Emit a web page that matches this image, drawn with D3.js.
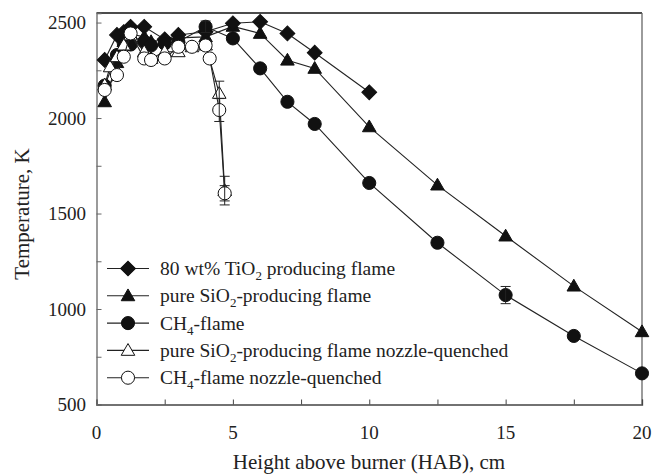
<!DOCTYPE html>
<html>
<head>
<meta charset="utf-8">
<script src="https://cdn.jsdelivr.net/npm/d3@7"></script>
<style>
  body { margin: 0; background: #fff; }
</style>
</head>
<body>
<script>
// 80 wt% TiO2 producing flame
var tio2X = [0.3, 0.75, 1.0, 1.25, 1.75, 2.5, 3.0, 4.0, 5.0, 6.0, 7.0, 8.0, 10.0];
var tio2T = [2304, 2435, 2450, 2478, 2478, 2412, 2435, 2452, 2496, 2504, 2443, 2342, 2135];

// pure SiO2-producing flame
var siX = [0.3, 0.75, 1.0, 1.25, 1.75, 2.0, 2.5, 3.0, 4.0, 5.0, 6.0, 7.0, 8.0, 10.0, 12.5, 15.0, 17.5, 20.0];
var siT = [2085, 2290, 2400, 2440, 2425, 2400, 2410, 2420, 2425, 2480, 2443, 2303, 2260, 1954, 1649, 1382, 1120, 881];

// CH4-flame
var ch4X = [0.3, 0.75, 1.0, 1.25, 1.75, 2.0, 2.5, 3.0, 4.0, 5.0, 6.0, 7.0, 8.0, 10.0, 12.5, 15.0, 17.5, 20.0];
var ch4T = [2170, 2330, 2390, 2385, 2400, 2380, 2390, 2400, 2478, 2417, 2260, 2085, 1969, 1660, 1347, 1073, 859, 663];
var ch4Err = [0, 0, 0, 0, 0, 0, 0, 0, 30, 0, 0, 0, 0, 0, 0, 45, 0, 0];

// pure SiO2-producing flame nozzle-quenched
var siqX = [0.3, 0.5, 0.75, 1.0, 1.25, 1.75, 2.0, 2.5, 3.0, 3.5, 4.0, 4.5, 4.7];
var siqT = [2173, 2268, 2321, 2382, 2435, 2347, 2312, 2347, 2347, 2373, 2382, 2129, 1620];
var siqErr = [0, 0, 0, 0, 0, 0, 0, 0, 0, 0, 0, 64, 75];

// CH4-flame nozzle-quenched
var chqX = [0.3, 0.75, 1.0, 1.25, 1.75, 2.0, 2.5, 3.0, 3.5, 4.0, 4.15, 4.5, 4.7];
var chqT = [2147, 2225, 2321, 2443, 2312, 2304, 2312, 2373, 2373, 2380, 2312, 2042, 1606];
var chqErr = [0, 0, 0, 0, 0, 0, 0, 0, 0, 0, 0, 60, 40];

var xTicks = [0, 5, 10, 15, 20];
var yTicks = [500, 1000, 1500, 2000, 2500];

var W = 654, H = 474;
var FONT = "'Liberation Serif', 'Times New Roman', 'DejaVu Serif', serif";
var x = d3.scaleLinear().domain([0, 20]).range([96.5, 642]);
var y = d3.scaleLinear().domain([500, 2550]).range([404.5, 13]);

var svg = d3.select("body").append("svg").attr("width", W).attr("height", H)
  .attr("font-family", FONT);

// frame
svg.append("line").attr("x1", x(0)).attr("x2", x(20)).attr("y1", y(2550)).attr("y2", y(2550))
  .attr("stroke", "#111").attr("stroke-width", 1.3);
svg.append("line").attr("x1", x(20)).attr("x2", x(20)).attr("y1", y(2550)).attr("y2", y(500))
  .attr("stroke", "#666").attr("stroke-width", 1.3);

var xAxis = svg.append("g").attr("transform", "translate(0," + y(500) + ")")
  .call(d3.axisBottom(x).tickValues(d3.range(0, 20.01, 2.5)).tickSize(-5).tickFormat(""));
xAxis.select(".domain").attr("stroke", "#444").attr("stroke-width", 1.3);
xAxis.selectAll(".tick line").attr("stroke", "#444");

var yAxis = svg.append("g").attr("transform", "translate(" + x(0) + ",0)")
  .call(d3.axisLeft(y).tickValues(d3.range(500, 2501, 250)).tickSize(-5).tickFormat(""));
yAxis.select(".domain").attr("stroke", "#666").attr("stroke-width", 1.3);
yAxis.selectAll(".tick line").attr("stroke", "#666");

svg.selectAll(".xlab").data(xTicks).enter().append("text")
  .attr("x", function(d) { return x(d); }).attr("y", 439)
  .attr("text-anchor", "middle").attr("font-family", FONT).attr("fill", "#222")
  .style("font-size", "19px").text(function(d) { return d; });

svg.selectAll(".ylab").data(yTicks).enter().append("text")
  .attr("x", 86).attr("y", function(d) { return y(d) + 6.5; })
  .attr("text-anchor", "end").attr("font-family", FONT).attr("fill", "#222")
  .style("font-size", "19px").text(function(d) { return d; });

svg.append("text").attr("x", 369).attr("y", 469).attr("text-anchor", "middle")
  .attr("font-family", FONT).attr("fill", "#222")
  .style("font-size", "21px").text("Height above burner (HAB), cm");
svg.append("text").attr("transform", "translate(29,214) rotate(-90)").attr("text-anchor", "middle")
  .attr("font-family", FONT).attr("fill", "#222")
  .style("font-size", "21px").text("Temperature, K");

function zip(xs, ts, es) {
  return xs.map(function(v, i) { return {x: v, t: ts[i], e: es ? es[i] : 0}; });
}

var series = [
  {data: zip(siX, siT), shape: d3.symbolTriangle, size: 80, fill: "#111", rot: 0},
  {data: zip(tio2X, tio2T), shape: d3.symbolSquare, size: 110, fill: "#111", rot: 45},
  {data: zip(ch4X, ch4T, ch4Err), shape: d3.symbolCircle, size: 135, fill: "#111", rot: 0},
  {data: zip(siqX, siqT, siqErr), shape: d3.symbolTriangle, size: 80, fill: "#fff", rot: 0},
  {data: zip(chqX, chqT, chqErr), shape: d3.symbolCircle, size: 135, fill: "#fff", rot: 0}
];

var line = d3.line().x(function(d) { return x(d.x); }).y(function(d) { return y(d.t); });

series.forEach(function(s) {
  var g = svg.append("g");
  g.append("path").attr("d", line(s.data)).attr("fill", "none").attr("stroke", "#222").attr("stroke-width", 1.1);
  g.selectAll("path.m").data(s.data).enter().append("path").attr("class", "m")
    .attr("d", d3.symbol().type(s.shape).size(s.size))
    .attr("transform", function(d) {
      var dy = s.shape === d3.symbolTriangle ? 1 : 0;
      return "translate(" + x(d.x) + "," + (y(d.t) + dy) + ") rotate(" + s.rot + ")";
    })
    .attr("fill", s.fill).attr("stroke", "#111").attr("stroke-width", 1);
  // error bars
  var eb = s.data.filter(function(d) { return d.e > 0; });
  var ge = g.selectAll("g.eb").data(eb).enter().append("g").attr("stroke", "#222").attr("stroke-width", 1);
  ge.append("line").attr("x1", function(d) { return x(d.x); }).attr("x2", function(d) { return x(d.x); })
    .attr("y1", function(d) { return y(d.t + d.e); }).attr("y2", function(d) { return y(d.t - d.e); });
  ge.append("line").attr("x1", function(d) { return x(d.x) - 5; }).attr("x2", function(d) { return x(d.x) + 5; })
    .attr("y1", function(d) { return y(d.t + d.e); }).attr("y2", function(d) { return y(d.t + d.e); });
  ge.append("line").attr("x1", function(d) { return x(d.x) - 5; }).attr("x2", function(d) { return x(d.x) + 5; })
    .attr("y1", function(d) { return y(d.t - d.e); }).attr("y2", function(d) { return y(d.t - d.e); });
});

// legend
var legendItems = [
  {s: series[1], parts: [["80 wt% TiO", 0], ["2", 1], [" producing flame", 0]]},
  {s: series[0], parts: [["pure SiO", 0], ["2", 1], ["-producing flame", 0]]},
  {s: series[2], parts: [["CH", 0], ["4", 1], ["-flame", 0]]},
  {s: series[3], parts: [["pure SiO", 0], ["2", 1], ["-producing flame nozzle-quenched", 0]]},
  {s: series[4], parts: [["CH", 0], ["4", 1], ["-flame nozzle-quenched", 0]]}
];

var lg = svg.selectAll(".leg").data(legendItems).enter().append("g")
  .attr("transform", function(d, i) { return "translate(0," + (268.5 + i * 27.3) + ")"; });
lg.append("line").attr("x1", 107).attr("x2", 149).attr("y1", 0).attr("y2", 0)
  .attr("stroke", "#222").attr("stroke-width", 1.1);
lg.append("path").attr("d", function(d) { return d3.symbol().type(d.s.shape).size(d.s.size)(); })
  .attr("transform", function(d) { return "translate(128," + (d.s.shape === d3.symbolTriangle ? 1 : 0) + ") rotate(" + d.s.rot + ")"; })
  .attr("fill", function(d) { return d.s.fill; }).attr("stroke", "#111");
var lt = lg.append("text").attr("x", 160).attr("y", 6.5).attr("font-family", FONT).attr("fill", "#222")
  .style("font-size", "19.5px");
lt.each(function(d) {
  var t = d3.select(this);
  d.parts.forEach(function(p) {
    var ts = t.append("tspan").text(p[0]);
    if (p[1]) ts.attr("dy", 5).style("font-size", "13px");
    else if (t.selectAll("tspan").size() > 1) ts.attr("dy", -5);
  });
});
</script>
</body>
</html>
